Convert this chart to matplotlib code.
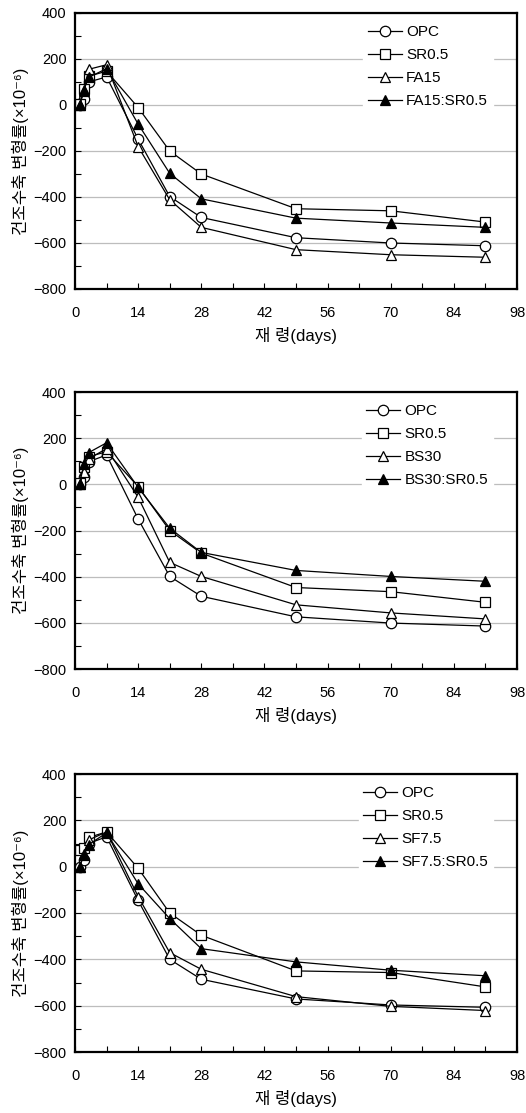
import matplotlib
matplotlib.use("Agg")
import matplotlib.pyplot as plt
from matplotlib.ticker import MultipleLocator

plt.rcParams['font.family'] = ['Liberation Sans', 'Noto Sans CJK KR', 'DejaVu Sans']
plt.rcParams['axes.unicode_minus'] = True

# Curing age (days)
days = [1, 2, 3, 7, 14, 21, 28, 49, 70, 91]

# Panel 1: fly ash series
p1_labels = ["OPC", "SR0.5", "FA15", "FA15:SR0.5"]
p1_opc = [0, 25, 100, 122, -148, -398, -489, -577, -600, -612]
p1_sr = [5, 70, 125, 147, -11, -200, -300, -451, -460, -509]
p1_fa = [0, 60, 155, 175, -181, -412, -532, -629, -651, -662]
p1_fasr = [0, 67, 120, 158, -83, -297, -408, -492, -513, -532]

# Panel 2: blast-furnace slag series
p2_labels = ["OPC", "SR0.5", "BS30", "BS30:SR0.5"]
p2_opc = [0, 33, 98, 127, -150, -399, -485, -574, -601, -614]
p2_sr = [5, 75, 120, 141, -10, -200, -298, -447, -465, -511]
p2_bs = [0, 55, 110, 155, -56, -338, -399, -522, -557, -583]
p2_bssr = [0, 90, 137, 180, -13, -190, -295, -373, -399, -420]

# Panel 3: silica fume series
p3_labels = ["OPC", "SR0.5", "SF7.5", "SF7.5:SR0.5"]
p3_opc = [0, 30, 100, 129, -146, -400, -486, -571, -597, -607]
p3_sr = [74, 80, 126, 150, -7, -200, -296, -450, -457, -519]
p3_sf = [0, 55, 115, 150, -129, -371, -443, -561, -603, -621]
p3_sfsr = [0, 50, 95, 146, -74, -224, -354, -411, -447, -471]

x_ticks = [0, 14, 28, 42, 56, 70, 84, 98]
y_ticks = [-800, -600, -400, -200, 0, 200, 400]

W, H = 526, 1113
fig = plt.figure(figsize=(W / 100, H / 100), dpi=100)

styles = [
    dict(marker="o", markerfacecolor="white"),
    dict(marker="s", markerfacecolor="white"),
    dict(marker="^", markerfacecolor="white"),
    dict(marker="^", markerfacecolor="black"),
]

panels = [
    (13, 289, p1_labels, [p1_opc, p1_sr, p1_fa, p1_fasr]),
    (392, 669, p2_labels, [p2_opc, p2_sr, p2_bs, p2_bssr]),
    (774, 1052, p3_labels, [p3_opc, p3_sr, p3_sf, p3_sfsr]),
]

left, right = 75, 517
for top, bottom, labels, series in panels:
    ax = fig.add_axes([left / W, 1 - bottom / H, (right - left) / W, (bottom - top) / H])
    for lab, vals, st in zip(labels, series, styles):
        ax.plot(days, vals, color="black", linewidth=0.9, markersize=7.5,
                markeredgecolor="black", markeredgewidth=0.9, label=lab, **st)
    ax.set_xlim(0, 98)
    ax.set_ylim(-800, 400)
    ax.set_xticks(x_ticks)
    ax.set_yticks(y_ticks)
    ax.xaxis.set_minor_locator(MultipleLocator(7))
    ax.yaxis.set_minor_locator(MultipleLocator(100))
    ax.tick_params(which="both", direction="in", length=4, width=0.8,
                   labelsize=10.5, colors="black")
    ax.tick_params(axis="x", pad=12)
    ax.tick_params(axis="y", pad=6)
    ax.grid(axis="y", which="major", color="#bdbdbd", linewidth=0.9)
    ax.set_axisbelow(True)
    for sp in ax.spines.values():
        sp.set_linewidth(1.6)
    ax.set_xlabel("재 령(days)", fontsize=12, labelpad=5)
    ax.set_ylabel("건조수축 변형률(×10⁻⁶)", fontsize=12, labelpad=3)
    leg = ax.legend(loc="upper right", bbox_to_anchor=(0.945, 0.972), frameon=True,
                    fontsize=11, handlelength=2.2, handletextpad=0.3,
                    labelspacing=0.58, borderpad=0.3, borderaxespad=0.0)
    leg.get_frame().set_facecolor("white")
    leg.get_frame().set_edgecolor("white")
    leg.get_frame().set_alpha(1.0)
    leg.get_frame().set_boxstyle("square", pad=0.0)

fig.savefig("out.png", dpi=100)
